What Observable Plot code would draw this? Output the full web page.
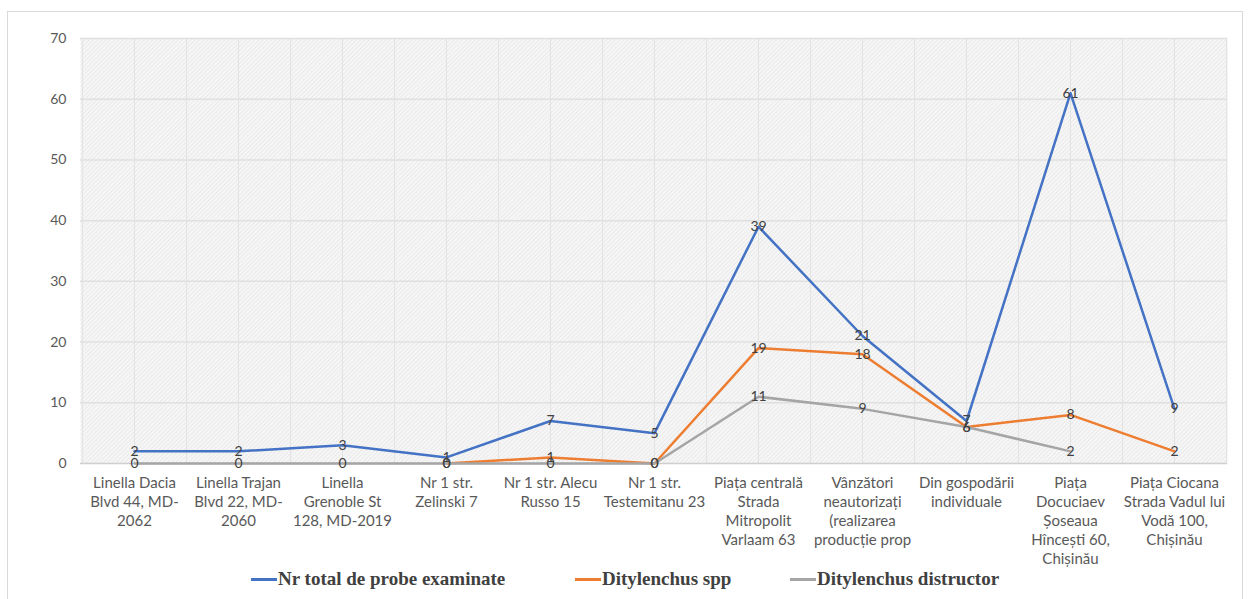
<!DOCTYPE html>
<html><head><meta charset="utf-8">
<script src="https://cdn.jsdelivr.net/npm/d3@7"></script>
<script src="https://cdn.jsdelivr.net/npm/@observablehq/plot@0.6"></script>
<style>
body{margin:0;background:#fff;}
#wrap{position:relative;width:1248px;height:599px;overflow:hidden;background:#fff;}
#border{position:absolute;left:7px;top:11px;width:1236px;height:640px;border:1px solid #d9d9d9;box-sizing:border-box;}
#chart{position:absolute;left:0;top:0;}
#legend{position:absolute;left:0;top:566px;width:1248px;height:26px;font-family:"Liberation Serif","Times New Roman",serif;font-weight:bold;font-size:19px;color:#404040;}
.item{position:absolute;top:0;display:flex;align-items:center;height:26px;white-space:nowrap;}
.sw{width:26px;height:3px;margin-right:1px;}
</style>
</head><body>
<div id="wrap"><div id="border"></div><div id="chart"></div><div id="legend"></div></div>
<script>
const categories = [
  "Linella Dacia Blvd 44, MD-2062",
  "Linella Trajan Blvd 22, MD-2060",
  "Linella Grenoble St 128, MD-2019",
  "Nr 1 str. Zelinski 7",
  "Nr 1 str. Alecu Russo 15",
  "Nr 1 str. Testemitanu 23",
  "Piața centrală Strada Mitropolit Varlaam 63",
  "Vânzători neautorizați (realizarea producție prop",
  "Din gospodării individuale",
  "Piața Docuciaev Șoseaua Hîncești 60, Chișinău",
  "Piața Ciocana Strada Vadul lui Vodă 100, Chișinău"
];
const tickLabels = [
  "Linella Dacia\nBlvd 44, MD-\n2062",
  "Linella Trajan\nBlvd 22, MD-\n2060",
  "Linella\nGrenoble St\n128, MD-2019",
  "Nr 1 str.\nZelinski 7",
  "Nr 1 str. Alecu\nRusso 15",
  "Nr 1 str.\nTestemitanu 23",
  "Piața centrală\nStrada\nMitropolit\nVarlaam 63",
  "Vânzători\nneautorizați\n(realizarea\nproducție prop",
  "Din gospodării\nindividuale",
  "Piața\nDocuciaev\nȘoseaua\nHîncești 60,\nChișinău",
  "Piața Ciocana\nStrada Vadul lui\nVodă 100,\nChișinău"
];
const seriesNames = ["Nr total de probe examinate", "Ditylenchus spp", "Ditylenchus distructor"];
const seriesColors = ["#4472C4", "#ED7D31", "#A5A5A5"];
const totalValues = [2, 2, 3, 1, 7, 5, 39, 21, 7, 61, 9];
const sppValues = [null, null, null, 0, 1, 0, 19, 18, 6, 8, 2];
const distructorValues = [0, 0, 0, 0, 0, 0, 11, 9, 6, 2, null];
const yTicks = [0, 10, 20, 30, 40, 50, 60, 70];

const allSeries = [totalValues, sppValues, distructorValues];
const rows = [];
allSeries.forEach((vals, s) => vals.forEach((v, i) => {
  if (v !== null) rows.push({series: seriesNames[s], cat: categories[i], value: v});
}));

const W = 1248, H = 580, ml = 80, mr = 21, mt = 38, mb = 117;
const step = (W - ml - mr) / categories.length;
const labelMap = new Map(categories.map((c, i) => [c, tickLabels[i]]));

const chart = Plot.plot({
  width: W, height: H,
  marginLeft: ml, marginRight: mr, marginTop: mt, marginBottom: mb,
  style: {fontFamily: "Lato, 'Open Sans', sans-serif", fontSize: "14px", background: "transparent"},
  x: {type: "point", domain: categories, padding: 0.5, axis: null},
  y: {domain: [0, 70], axis: null},
  color: {domain: seriesNames, range: seriesColors},
  marks: [
    Plot.frame({fill: "#f2f2f2", stroke: "none"}),
    Plot.ruleX(categories, {stroke: "#e2e2e2", strokeWidth: 1}),
    Plot.ruleX(categories, {stroke: "#e2e2e2", strokeWidth: 1, dx: step / 2}),
    Plot.ruleX(categories.slice(0, 1), {stroke: "#e2e2e2", strokeWidth: 1, dx: -step / 2}),
    Plot.ruleY(yTicks.slice(1), {stroke: "#e0e0e0", strokeWidth: 1.5}),
    Plot.ruleY([0], {stroke: "#cfcfcf", strokeWidth: 1.5}),
    Plot.axisY({ticks: yTicks, tickSize: 0, tickPadding: 14, fill: "#595959", fontSize: 14, label: null}),
    Plot.axisX({tickSize: 0, tickPadding: 11, fill: "#595959", fontSize: 15, lineHeight: 1.27,
      tickFormat: d => labelMap.get(d), label: null}),
    Plot.line(rows, {x: "cat", y: "value", stroke: "series", z: "series", strokeWidth: 2.5}),
    Plot.text(rows, {x: "cat", y: "value", text: d => String(d.value), fill: "#404040", fontSize: 14})
  ]
});

const svg = d3.select(chart);
const defs = svg.insert("defs", ":first-child");
const pat = defs.append("pattern").attr("id", "hatch").attr("width", 3).attr("height", 3)
  .attr("patternUnits", "userSpaceOnUse").attr("patternTransform", "rotate(45)");
pat.append("rect").attr("width", 3).attr("height", 3).attr("fill", "#f6f6f6");
pat.append("line").attr("x1", 0).attr("y1", 0).attr("x2", 0).attr("y2", 3)
  .attr("stroke", "#e6e6e6").attr("stroke-width", 1.5);
svg.select("[aria-label=frame]").attr("fill", "url(#hatch)");

document.getElementById("chart").appendChild(chart);

const legend = document.getElementById("legend");
const legendLeft = [251, 575, 790];
seriesNames.forEach((n, i) => {
  const it = document.createElement("div");
  it.className = "item";
  it.style.left = legendLeft[i] + "px";
  it.innerHTML = `<span class="sw" style="background:${seriesColors[i]}"></span><span>${n}</span>`;
  legend.appendChild(it);
});
</script>
</body></html>
